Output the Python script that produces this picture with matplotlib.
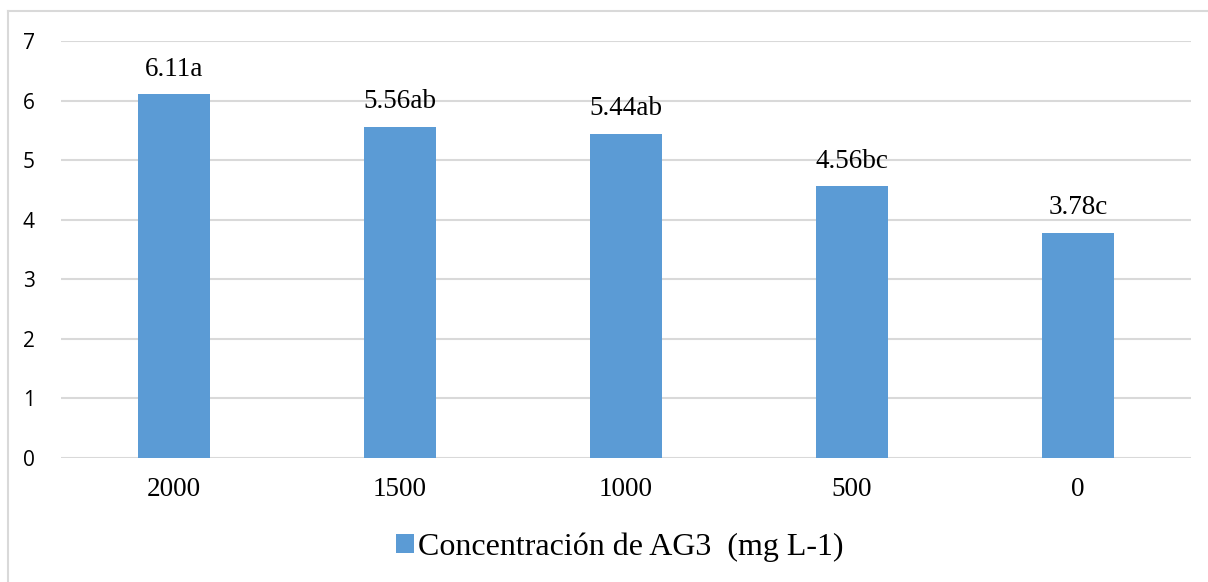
import matplotlib
matplotlib.use("Agg")
import matplotlib.pyplot as plt
from matplotlib.lines import Line2D
from matplotlib.patches import Patch

categories = ["2000", "1500", "1000", "500", "0"]
values = [6.11, 5.56, 5.44, 4.56, 3.78]
letters = ["a", "ab", "ab", "bc", "c"]
yticks = [0, 1, 2, 3, 4, 5, 6, 7]
legend_label = "Concentración de AG3  (mg L-1)"

bar_color = "#5B9BD5"
grid_color = "#D9D9D9"
serif = "Liberation Serif"
sans = "Open Sans"

fig = plt.figure(figsize=(12.08, 5.82), dpi=100)
ax = fig.add_axes([61 / 1208, 1 - 458 / 582, 1130 / 1208, 417 / 582])

x = list(range(len(categories)))
bars = ax.bar(x, values, width=0.315, color=bar_color, zorder=3)

for xi, v, l in zip(x, values, letters):
    ax.annotate(f"{v:.2f}{l}", (xi, v), xytext=(0, 9), textcoords="offset points",
                ha="center", va="bottom", fontsize=19.5, family=serif, zorder=4)

ax.set_xlim(-0.5, len(categories) - 0.5)
ax.set_ylim(0, 7)
ax.set_yticks(yticks)
ax.set_yticklabels([str(t) for t in yticks], family=sans, fontsize=15)
ax.set_xticks(x)
ax.set_xticklabels(categories, family=serif, fontsize=19.5)
ax.tick_params(axis="both", length=0)
ax.tick_params(axis="y", pad=19)
ax.tick_params(axis="x", pad=14)
ax.grid(axis="y", color=grid_color, linewidth=1.5, zorder=0)
for s in ax.spines.values():
    s.set_visible(False)

fig.legend(handles=[Patch(facecolor=bar_color, label=legend_label)],
           loc="center", bbox_to_anchor=(620 / 1208, 1 - 547 / 582),
           frameon=False, prop={"family": serif, "size": 23},
           handlelength=0.55, handleheight=0.55, handletextpad=0.15)

# outer frame: top and left edges
fig.add_artist(Line2D([8 / 1208, 1], [1 - 11 / 582, 1 - 11 / 582],
                      transform=fig.transFigure, color=grid_color, linewidth=1.5))
fig.add_artist(Line2D([8 / 1208, 8 / 1208], [0, 1 - 11 / 582],
                      transform=fig.transFigure, color=grid_color, linewidth=1.5))

fig.savefig("out.png", dpi=100, facecolor="white")
